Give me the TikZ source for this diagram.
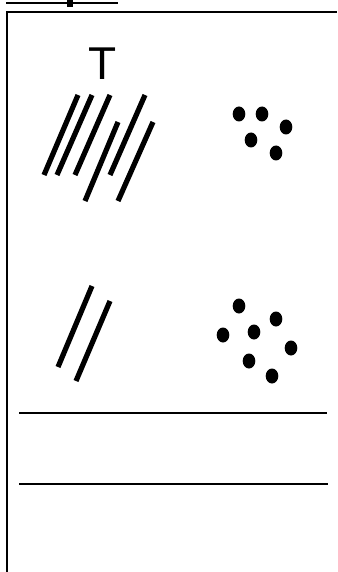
\documentclass[tikz,border=0pt]{standalone}
\usepackage{fontspec}
\setmainfont{Liberation Sans}
\begin{document}
\begin{tikzpicture}[x=1pt,y=-1pt,
  thinline/.style={line width=2.4pt},
  slash/.style={line width=5.2pt},
  dot/.style={fill=black,draw=none}]
\useasboundingbox (0,0) rectangle (337,572);
% top cut-off underline with descender
\draw[thinline] (6,3) -- (118,3);
\fill (67,0) rectangle (73,7);
% frame
\draw[thinline] (7,572) -- (7,12) -- (337,12);
% label
\node[font=\fontsize{46}{46}\selectfont, anchor=base, inner sep=0pt] (T) at (103,79.5) {T};
% first group of slashes
\draw[slash] (78,95) -- (44,175);
\draw[slash] (92,95) -- (57,175);
\draw[slash] (110,95) -- (75,175);
\draw[slash] (118,122) -- (85,201);
\draw[slash] (145,95) -- (110,175);
\draw[slash] (153,122) -- (118,201);
% first group of dots
\foreach \p in {(239,114),(262,114),(286,127),(251,140),(276,153)}
  \fill[dot] \p ellipse (6.3 and 7.5);
% second group of slashes
\draw[slash] (92,286) -- (58,367);
\draw[slash] (110,301) -- (76,381);
% second group of dots
\foreach \p in {(239,306),(276,319),(223,335),(254,332),(291,348),(249,361),(272,376)}
  \fill[dot] \p ellipse (6.3 and 7.5);
% horizontal lines
\draw[thinline] (19,413) -- (327,413);
\draw[thinline] (19,484) -- (328,484);
\end{tikzpicture}
\end{document}
